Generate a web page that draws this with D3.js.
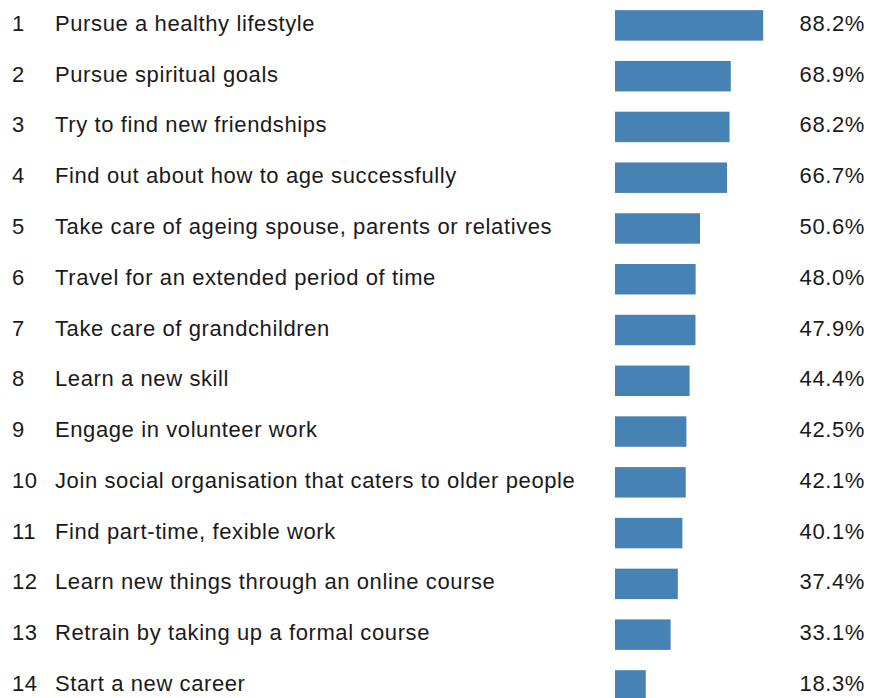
<!DOCTYPE html>
<html>
<head>
<meta charset="utf-8">
<script src="https://cdn.jsdelivr.net/npm/d3@7"></script>
<style>
  html, body { margin: 0; padding: 0; background: #ffffff; }
  svg { display: block; }
  text { font-family: "Liberation Sans", Arial, sans-serif; font-size: 22px; letter-spacing: 0.6px; fill: #1a1a1a; }
</style>
</head>
<body>
<svg id="chart" width="869" height="698"></svg>
<script>
const ranks = [1,2,3,4,5,6,7,8,9,10,11,12,13,14];
const categories = [
  "Pursue a healthy lifestyle",
  "Pursue spiritual goals",
  "Try to find new friendships",
  "Find out about how to age successfully",
  "Take care of ageing spouse, parents or relatives",
  "Travel for an extended period of time",
  "Take care of grandchildren",
  "Learn a new skill",
  "Engage in volunteer work",
  "Join social organisation that caters to older people",
  "Find part-time, fexible work",
  "Learn new things through an online course",
  "Retrain by taking up a formal course",
  "Start a new career"
];
const values = [88.2, 68.9, 68.2, 66.7, 50.6, 48.0, 47.9, 44.4, 42.5, 42.1, 40.1, 37.4, 33.1, 18.3];

const svg = d3.select("#chart");
const y = d3.scaleBand()
  .domain(categories)
  .range([0, 710.8])
  .paddingInner(0.4)
  .paddingOuter(0.2);
const x = d3.scaleLinear().domain([0, 100]).range([615, 783]);

const rows = svg.selectAll("g.row")
  .data(categories.map((c, i) => ({c, v: values[i], r: ranks[i]})))
  .join("g").attr("class", "row");

rows.append("rect")
  .attr("x", x(0))
  .attr("y", d => y(d.c))
  .attr("width", d => x(d.v) - x(0))
  .attr("height", y.bandwidth())
  .attr("fill", "#4682b4");

const mid = d => y(d.c) + y.bandwidth() / 2 + 5.5;

rows.append("text")
  .attr("x", 12)
  .attr("y", mid)
  .text(d => d.r);

rows.append("text")
  .attr("x", 55)
  .attr("y", mid)
  .text(d => d.c);

rows.append("text")
  .attr("x", 865)
  .attr("y", mid)
  .attr("text-anchor", "end")
  .text(d => d.v.toFixed(1) + "%");
</script>
</body>
</html>
